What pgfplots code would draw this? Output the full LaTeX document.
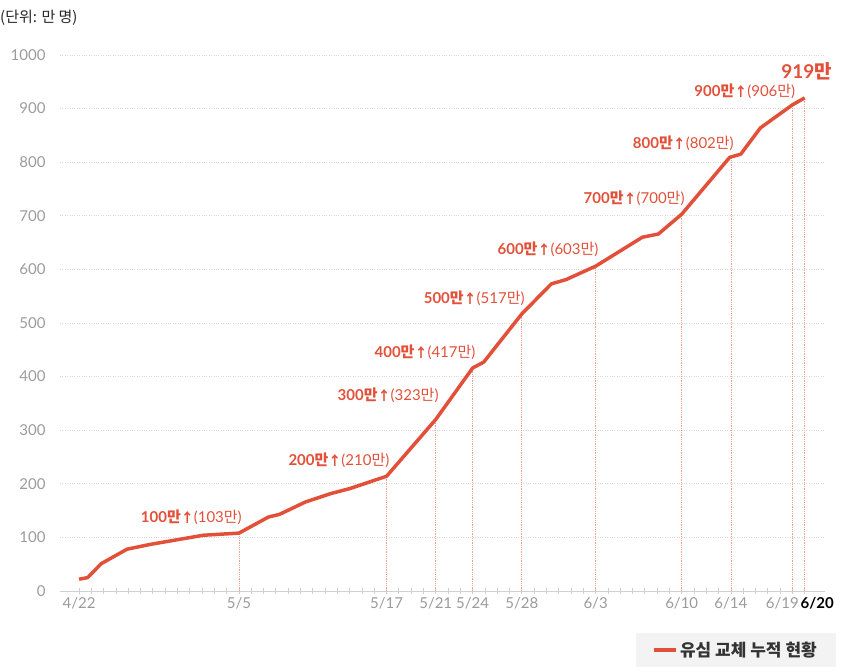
\documentclass[border=0pt]{standalone}
\usepackage{fontspec}
\setmainfont{Lato}
\newfontfamily\kr{Noto Sans CJK KR}
\usepackage{pgfplots}
\pgfplotsset{compat=1.18}
\definecolor{lred}{HTML}{E2503A}
\definecolor{dropc}{HTML}{F0A090}
\definecolor{tickgray}{HTML}{9B9B9B}
\definecolor{axgray}{HTML}{D0D0D0}
\definecolor{legbg}{HTML}{F3F3F3}
\newcommand{\man}{{\kr 만}}
\newcommand{\lab}[2]{{\bfseries #1{\kr\bfseries 만}{\kr\fontsize{13}{15}\selectfont ↑}}(#2\man)}
\newcommand{\fs}{\fontsize{15}{18}\selectfont}
\begin{document}
\begin{tikzpicture}
\useasboundingbox (-60pt,-77pt) rectangle (790pt,591pt);
\begin{axis}[
  scale only axis, width=765pt, height=536pt,
  xmin=-1.55, xmax=60.65, ymin=0, ymax=1000,
  axis lines=left, axis line style={-},
  x axis line style={axgray, line width=1pt},
  y axis line style={draw=none},
  ytick={0,100,...,1000},
  ytick style={draw=none},
  ymajorgrids, grid style={dotted, line width=0.7pt, black!15},
  xtick={0,13,25,29,32,36,42,49,53,58,59},
  xticklabels={4/22,5/5,5/17,5/21,5/24,5/28,6/3,6/10,6/14,{6/19\hspace*{20pt}},{\hspace*{25pt}\textcolor{black}{\bfseries 6/20}}},
  minor xtick={0,...,59},
  xtick style={axgray, line width=0.8pt},
  minor tick style={axgray, line width=0.8pt},
  major tick length=6pt, minor tick length=6pt, tick align=center,
  xticklabel style={font=\fs, text=tickgray},
  yticklabel style={font=\fs, text=tickgray, xshift=-8pt},
  /pgf/number format/assume math mode=true,
  /pgf/number format/1000 sep={},
  clip=false,
  legend style={at={(axis description cs:1,0)}, anchor=north east, xshift=11pt, yshift=-42pt,
    fill=legbg, draw=none, font=\kr\bfseries\fontsize{17}{20}\selectfont, text=black!80,
    inner xsep=17pt, inner ysep=7pt},
  legend image code/.code={\draw[#1, line width=3.5pt] (0pt,0pt) -- (22pt,0pt);},
]
\addplot[ycomb, densely dotted, dropc, line width=0.8pt, forget plot] coordinates {
(13,108) (25,214) (29,320) (32,416) (36,517) (42,606) (49,703) (53,810) (58,907) (59,920)
};
\addplot[lred, line width=3.5pt, line join=round] coordinates {
(0,22) (0.7,25) (1.8,51) (3.9,78) (5.8,87) (10.1,104) (13,108)
(15.4,138) (16.3,143) (18.4,166) (20.5,182) (22,191) (25,214)
(29,320) (32,416) (32.9,427) (36,517) (38.4,573) (39.6,581) (42,606)
(45.8,660) (47.1,666) (49,703) (52.9,809) (53.8,815) (55.4,864) (58,907) (59,920)
};
\addlegendentry{유심 교체 누적 현황}
\begin{scope}[every node/.style={anchor=east, text=lred, font=\fs, inner sep=0pt}]
\node[xshift=3pt, yshift=16pt] at (axis cs:13,108) {\lab{100}{103}};
\node[xshift=3pt, yshift=16pt] at (axis cs:25,214) {\lab{200}{210}};
\node[xshift=3pt, yshift=24pt] at (axis cs:29,320) {\lab{300}{323}};
\node[xshift=3pt, yshift=16pt] at (axis cs:32,416) {\lab{400}{417}};
\node[xshift=3pt, yshift=16pt] at (axis cs:36,517) {\lab{500}{517}};
\node[xshift=3pt, yshift=17pt] at (axis cs:42,606) {\lab{600}{603}};
\node[xshift=3pt, yshift=16pt] at (axis cs:49,703) {\lab{700}{700}};
\node[xshift=3pt, yshift=14pt] at (axis cs:53,810) {\lab{800}{802}};
\node[xshift=3pt, yshift=14pt] at (axis cs:58,907) {\lab{900}{906}};
\node[anchor=center, xshift=2pt, yshift=27pt, font=\fontsize{19}{22}\selectfont\bfseries] at (axis cs:59,920) {919{\kr\bfseries 만}};
\end{scope}
\node[anchor=west, inner sep=0pt, font=\kr\fs, text=black!85] at (axis description cs:0,1) [xshift=-60pt, yshift=37pt] {(단위: 만 명)};
\end{axis}
\end{tikzpicture}
\end{document}
